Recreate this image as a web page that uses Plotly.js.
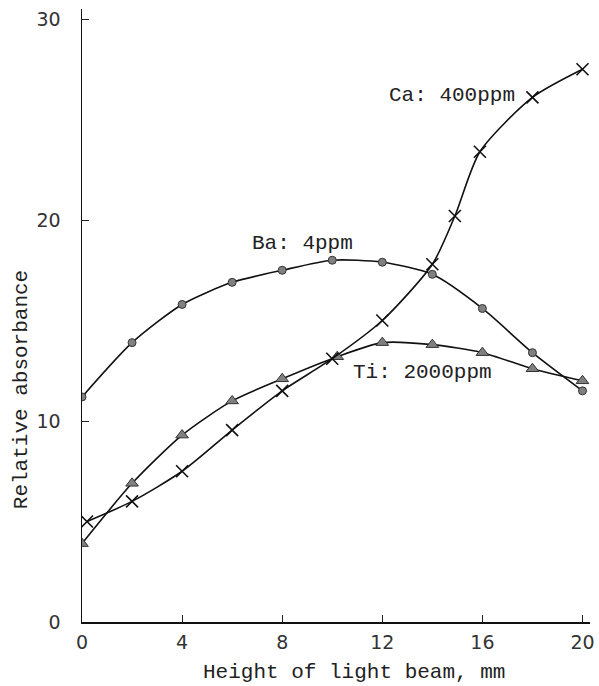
<!DOCTYPE html>
<html><head><meta charset="utf-8">
<script src="https://cdn.plot.ly/plotly-3.0.1.min.js"></script>
<style>body{margin:0;background:#fff}#c{width:599px;height:686px}</style>
</head><body><div id="c"></div>
<script>
const baX = [0, 2, 4, 6, 8, 10, 12, 14, 16, 18, 20];
const baY = [11.2, 13.9, 15.8, 16.9, 17.5, 18.0, 17.9, 17.3, 15.6, 13.4, 11.5];
const tiX = [0, 2, 4, 6, 8, 10.2, 12, 14, 16, 18, 20];
const tiY = [3.9, 6.9, 9.3, 11.0, 12.1, 13.2, 13.9, 13.8, 13.4, 12.6, 12.0];
const caX = [0.2, 2, 4, 6, 8, 10, 12, 14, 14.9, 15.9, 18, 20];
const caY = [5.0, 6.0, 7.5, 9.55, 11.5, 13.1, 15.0, 17.8, 20.2, 23.4, 26.1, 27.5];
const labels = ["Ca: 400ppm", "Ba: 4ppm", "Ti: 2000ppm"];
const xTitle = "Height of light beam, mm";
const yTitle = "Relative absorbance";
const xTicks = [0, 4, 8, 12, 16, 20];
const yTicks = [0, 10, 20, 30];

const mono = "Liberation Mono, Courier New, monospace";
const line = {color: "#111", width: 1.6, shape: "spline", smoothing: 0.7};
const traces = [
  {x: baX, y: baY, mode: "lines+markers", line: line,
   marker: {symbol: "circle", size: 8, color: "#808080", line: {color: "#333", width: 1}}},
  {x: tiX, y: tiY, mode: "lines+markers", line: line,
   marker: {symbol: "triangle-up", size: 11, color: "#808080", line: {color: "#333", width: 1}}},
  {x: caX, y: caY, mode: "lines+markers", line: line,
   marker: {symbol: "x-thin", size: 12, color: "#111", line: {color: "#111", width: 1.6}}}
];
const tf = {family: mono, size: 21, color: "#222"};
const layout = {
  width: 599, height: 686, showlegend: false,
  paper_bgcolor: "#fff", plot_bgcolor: "#fff",
  margin: {l: 82, r: 9, t: 9, b: 64},
  xaxis: {range: [0, 20.3], tickvals: xTicks, ticks: "inside", ticklen: 7, tickcolor: "#222",
    showgrid: false, zeroline: false, showline: true, linecolor: "#111", linewidth: 1.5,
    ticklabelstandoff: 3,
    tickfont: {family: "DejaVu Sans, sans-serif", size: 19, color: "#333"}},
  yaxis: {range: [0, 30.5], tickvals: yTicks, ticks: "inside", ticklen: 7, tickcolor: "#222",
    showgrid: false, zeroline: false, showline: true, linecolor: "#111", linewidth: 1.5,
    ticklabelstandoff: 16,
    tickfont: {family: "DejaVu Sans, sans-serif", size: 19, color: "#333"}},
  annotations: [
    {x: 14.8, y: 26.2, text: labels[0], showarrow: false, font: tf},
    {x: 8.8, y: 18.85, text: labels[1], showarrow: false, font: tf},
    {x: 13.6, y: 12.4, text: labels[2], showarrow: false, font: tf},
    {xref: "paper", yref: "paper", x: 0.535, y: -0.083, text: xTitle, showarrow: false, font: tf,
     xanchor: "center", yanchor: "middle"},
    {xref: "paper", yref: "paper", x: -0.119, y: 0.379, text: yTitle, showarrow: false, font: tf,
     textangle: -90, xanchor: "center", yanchor: "middle"}
  ]
};
Plotly.newPlot("c", traces, layout, {staticPlot: true});
</script></body></html>
